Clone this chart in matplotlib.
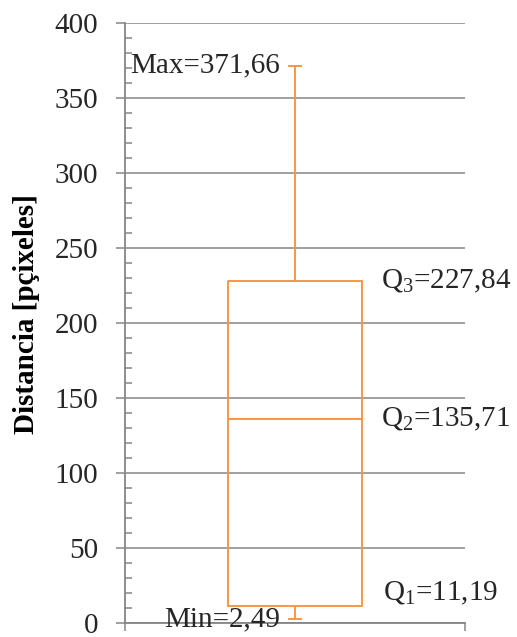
import matplotlib as mpl
import matplotlib.pyplot as plt

# box statistics (pixel distance)
stat_names = ["Min", "Q1", "Q2", "Q3", "Max"]
stat_values = [2.49, 11.19, 135.71, 227.84, 371.66]
stat_labels = ["Min=2,49", "Q$_1$=11,19", "Q$_2$=135,71", "Q$_3$=227,84", "Max=371,66"]
y_ticks = [0, 50, 100, 150, 200, 250, 300, 350, 400]

ORANGE = "#F79646"
GRID = "#868686"
TEXT = "#262626"

mpl.rcParams.update(
    {
        "font.family": ["Liberation Serif", "DejaVu Serif"],
        "mathtext.fontset": "custom",
        "mathtext.rm": "Liberation Serif",
        "mathtext.it": "Liberation Serif:italic",
        "mathtext.bf": "Liberation Serif:bold",
        "font.size": 21,
        "text.color": TEXT,
    }
)

fig = plt.figure(figsize=(5.17, 6.37), dpi=100)
ax = fig.add_axes([125 / 517, 14 / 637, 340 / 517, 600 / 637])

vals = dict(zip(stat_names, stat_values))
stats = [
    {
        "whislo": vals["Min"],
        "q1": vals["Q1"],
        "med": vals["Q2"],
        "q3": vals["Q3"],
        "whishi": vals["Max"],
        "fliers": [],
    }
]
box_w = 0.394
orange = {"color": ORANGE, "linewidth": 1.4}
ax.bxp(
    stats,
    positions=[1],
    widths=box_w,
    capwidths=0.035,
    showfliers=False,
    boxprops=orange,
    medianprops=orange,
    whiskerprops=orange,
    capprops=orange,
    zorder=3,
)

ax.set_xlim(0.5, 1.5)
ax.set_ylim(0, 400)
ax.set_yticks(y_ticks)
ax.set_yticks(range(0, 401, 10), minor=True)
ax.yaxis.grid(True, color=GRID, linewidth=1.1, zorder=0)
ax.set_axisbelow(True)

for side in ["top", "right"]:
    ax.spines[side].set_visible(False)
ax.spines["left"].set_color(GRID)
ax.spines["left"].set_linewidth(1.3)
ax.spines["bottom"].set_color(GRID)
ax.spines["bottom"].set_linewidth(1.3)

ax.tick_params(axis="y", which="major", length=6.5, width=1.1, color=GRID, pad=13, labelsize=21, labelcolor=TEXT)
ax.tick_params(axis="y", which="minor", direction="in", length=5, width=1.1, color=GRID)
ax.set_xticks([0.5, 1.5])
ax.set_xticklabels([])
ax.tick_params(axis="x", length=6, width=1.1, color=GRID)

ax.set_ylabel("Distancia [pçixeles]", fontweight="bold", fontsize=21)
ax.yaxis.set_label_coords(-0.25, 0.515)

right = 1 + box_w / 2
offsets = {"Q1": (15, 9), "Q2": (14, 0), "Q3": (14, 0)}
for name, val, lab in zip(stat_names, stat_values, stat_labels):
    if name in offsets:
        ax.annotate(lab, (right, val), xytext=offsets[name], textcoords="offset points",
                    ha="left", va="center", fontsize=21, annotation_clip=False)
    else:
        ax.annotate(lab, (1, val), xytext=(-11, 0), textcoords="offset points",
                    ha="right", va="center", fontsize=21, annotation_clip=False)

fig.savefig("out.png", dpi=100)
